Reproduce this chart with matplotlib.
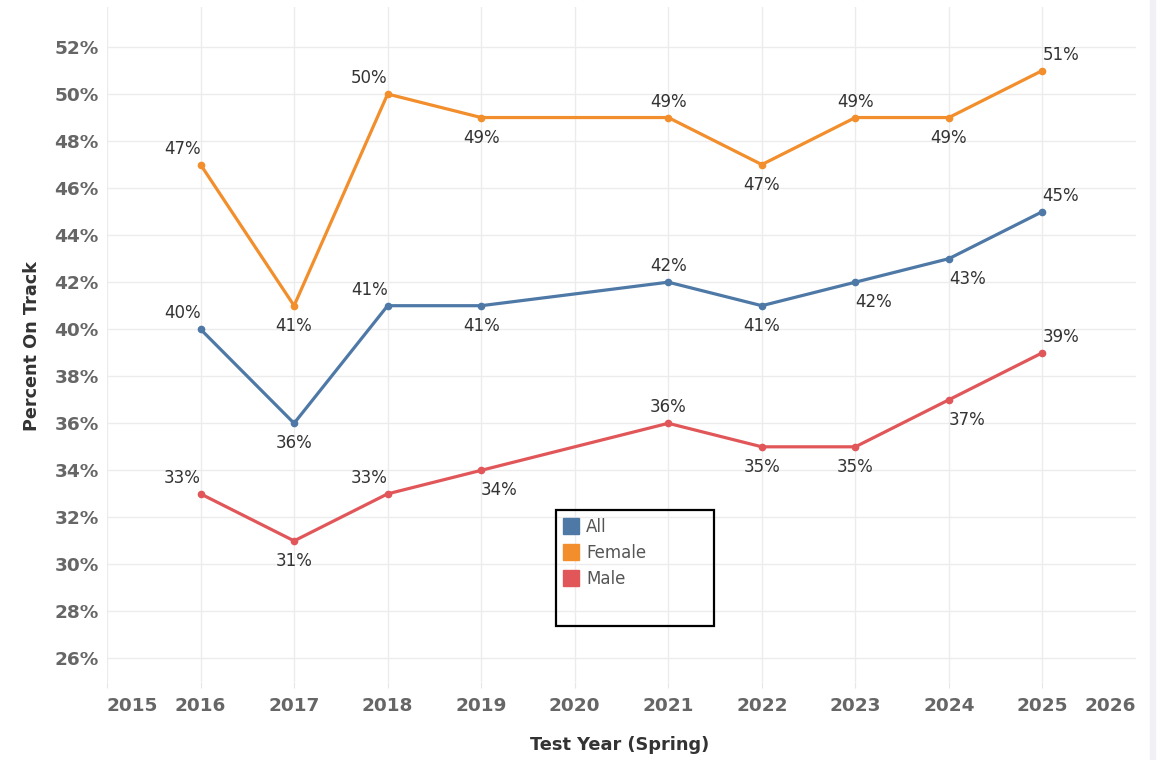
import matplotlib.pyplot as plt
from matplotlib.lines import Line2D
from matplotlib.patches import Rectangle

# data (percent on track)
years = [2016, 2017, 2018, 2019, 2021, 2022, 2023, 2024, 2025]
all_pct = [40, 36, 41, 41, 42, 41, 42, 43, 45]
female_pct = [47, 41, 50, 49, 49, 47, 49, 49, 51]
male_pct = [33, 31, 33, 34, 36, 35, 35, 37, 39]
series_names = ['All', 'Female', 'Male']

colors = {'All': '#4e79a7', 'Female': '#f28e2b', 'Male': '#e15759'}

# label placement per point: a=above, b=below; l/r = side shift
placement = {
    'All':    ['al', 'b', 'al', 'b', 'a', 'b', 'br', 'br', 'ar'],
    'Female': ['al', 'b', 'al', 'b', 'a', 'b', 'a', 'b', 'ar'],
    'Male':   ['al', 'b', 'al', 'br', 'a', 'b', 'b', 'br', 'ar'],
}

fig = plt.figure(figsize=(11.65, 7.6), dpi=100)
ax = fig.add_axes([107 / 1165, 1 - 682 / 760, (1136 - 107) / 1165, (682 - 7) / 760])

px = 72 / 100  # points per pixel
for name, vals in zip(series_names, [all_pct, female_pct, male_pct]):
    ax.plot(years, vals, color=colors[name], lw=2.3, marker='o', ms=4.5,
            solid_capstyle='round', zorder=3)
    for x, v, p in zip(years, vals, placement[name]):
        dy = 16 * px if p[0] == 'a' else -20 * px
        ha = 'center'
        if len(p) > 1:
            ha = 'right' if p[1] == 'l' else 'left'
        ax.annotate(f'{v}%', (x, v), xytext=(0, dy), textcoords='offset points',
                    ha=ha, va='center', fontsize=12, color='#333333', zorder=4)

ax.set_xlim(2015, 2026)
ax.set_ylim(25.0, 53.7)
ax.set_yticks(range(26, 53, 2))
ax.set_yticklabels([f'{t}%' for t in range(26, 53, 2)])
xt = list(range(2015, 2027))
ax.set_xticks(xt)
ax.set_xticklabels([str(t) for t in xt])
xlabs = ax.get_xticklabels()
xlabs[0].set_ha('left')
xlabs[-1].set_ha('right')

for s in ax.spines.values():
    s.set_visible(False)
ax.grid(True, color='#ececec', lw=1)
ax.set_axisbelow(True)
ax.tick_params(axis='y', length=0, pad=6, labelsize=13.3, labelcolor='#666666')
ax.tick_params(axis='x', length=4, color='#e6e6e6', pad=7, labelsize=13.3,
               labelcolor='#666666')
ax.xaxis.get_major_ticks()[-1].tick1line.set_visible(False)
ax.xaxis.get_major_ticks()[-1].gridline.set_visible(False)
for lab in ax.get_xticklabels() + ax.get_yticklabels():
    lab.set_fontweight('bold')

fig.text(32 / 1165, 1 - 346 / 760, 'Percent On Track', rotation=90, ha='center',
         va='center', fontsize=12.7, fontweight='bold', color='#333333')
fig.text(620 / 1165, 1 - 745 / 760, 'Test Year (Spring)', ha='center',
         va='center', fontsize=12.8, fontweight='bold', color='#333333')

# legend box
fig.patches.append(Rectangle((556 / 1165, 1 - 626 / 760), 158 / 1165, 116 / 760,
                             transform=fig.transFigure, fill=False, ec='black',
                             lw=1.6, zorder=5))
handles = [Line2D([], [], ls='none', marker='s', ms=11.5, color=colors[n]) for n in series_names]
fig.legend(handles, series_names, loc='upper left',
           bbox_to_anchor=(552 / 1165, 1 - 506 / 760), frameon=False, fontsize=12,
           labelcolor='#555555', handlelength=0.9, handletextpad=0.45,
           labelspacing=0.5, borderpad=0.2)

# light strip on the right edge
fig.patches.append(Rectangle((1150 / 1165, 0), 5 / 1165, 1, transform=fig.transFigure,
                             color='#f0f0f5', zorder=0))

fig.savefig('out.png', dpi=100)
